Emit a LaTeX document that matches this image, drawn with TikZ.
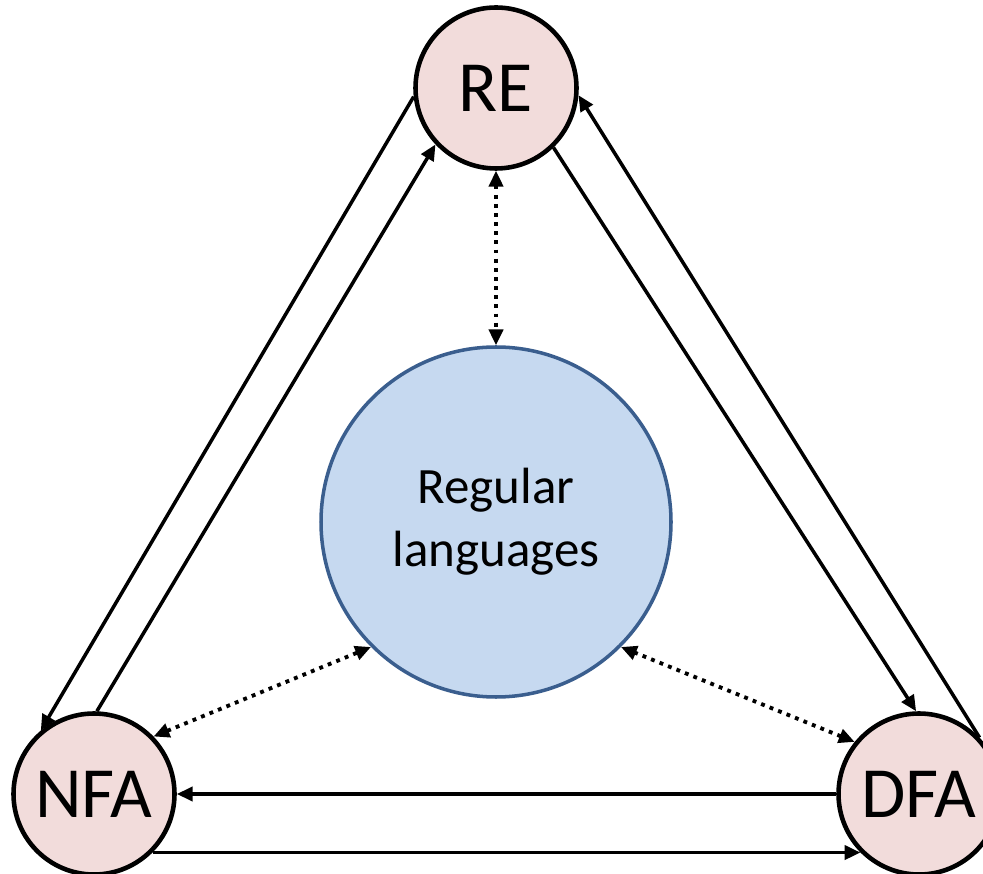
\documentclass[tikz,border=0pt]{standalone}
\usepackage{fontspec}
\setmainfont{Carlito}
\usetikzlibrary{calc,positioning}
\usetikzlibrary{arrows.meta}
\definecolor{rosefill}{HTML}{F2DCDB}
\definecolor{langfill}{HTML}{C6D9F0}
\definecolor{langline}{HTML}{3A5E8E}
\tikzstyle{state}=[circle, draw, line width=2.6pt, fill=rosefill, minimum size=3.22cm, inner sep=0pt, font=\fontsize{41}{44}\selectfont]
\tikzstyle{lang} = [circle, draw=langline, line width=2pt, fill=langfill, minimum size=7cm, align=center, font=\fontsize{29}{36}\selectfont]
\tikzstyle{conv} = [line width=2pt, -{Triangle[length=9pt,width=8pt]}]
\tikzstyle{equiv} = [line width=2.2pt, dash pattern=on 2.2pt off 3pt, {Triangle[length=9pt,width=8pt]}-{Triangle[length=9pt,width=8pt]}]

\begin{document}
\begin{tikzpicture}
\useasboundingbox (0,0) rectangle (19.66,17.46);

\node (lang) at (9.92,7.02) [lang] {Regular\\languages};
\node (re) at (9.92,15.70) [state] {RE};
\node (nfa) at (1.88,1.58) [state] {NFA};
\node (dfa) at (18.38,1.58) [state] {DFA};

% conversions between the three formalisms
\draw [conv] (re.186) -- (nfa.130);
\draw [conv] (nfa.88) -- (re.223);
\draw [conv] (re.314) -- (dfa.92);
\draw [conv] (dfa.43) -- (re.355);
\draw [conv] (dfa.180) -- (nfa.0);
\draw [conv] (nfa.-45) -- (dfa.-135);

% each one describes the same class
\draw [equiv] (re.south) -- (lang.north);
\draw [equiv] (nfa.44) -- (lang.225);
\draw [equiv] (dfa.141) -- (lang.315);

\end{tikzpicture}
\end{document}
